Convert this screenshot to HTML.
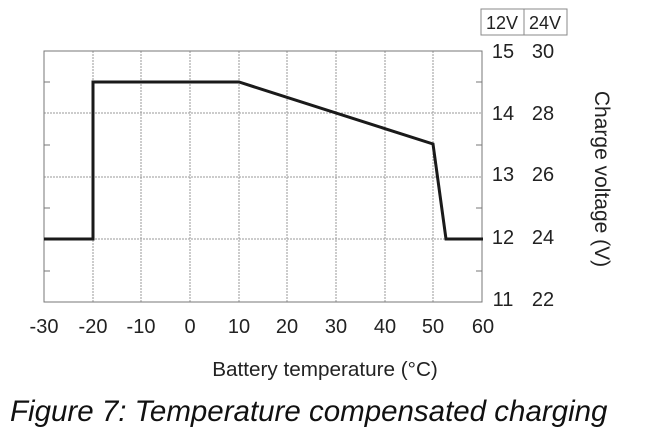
<!DOCTYPE html>
<html><head><style>
body{margin:0;background:#fff;}
svg{display:block;font-family:"Liberation Sans",Arial,sans-serif;}
</style></head><body>
<svg width="661" height="442" viewBox="0 0 661 442">
<rect width="661" height="442" fill="#fff"/>
<g stroke="#999" stroke-width="1" stroke-dasharray="2,1">
<line x1="93" y1="51" x2="93" y2="302"/><line x1="141" y1="51" x2="141" y2="302"/>
<line x1="190" y1="51" x2="190" y2="302"/><line x1="239" y1="51" x2="239" y2="302"/>
<line x1="287" y1="51" x2="287" y2="302"/><line x1="336" y1="51" x2="336" y2="302"/>
<line x1="385" y1="51" x2="385" y2="302"/><line x1="433" y1="51" x2="433" y2="302"/>
<line x1="44" y1="113" x2="482" y2="113"/><line x1="44" y1="177" x2="482" y2="177"/>
<line x1="44" y1="239" x2="482" y2="239"/>
</g>
<rect x="44" y="51" width="438" height="251" fill="none" stroke="#777" stroke-width="1"/>
<g stroke="#777" stroke-width="1">
<line x1="44" y1="82" x2="50" y2="82"/><line x1="44" y1="145" x2="50" y2="145"/>
<line x1="44" y1="208" x2="50" y2="208"/><line x1="44" y1="271" x2="50" y2="271"/>
<line x1="476" y1="82" x2="482" y2="82"/><line x1="476" y1="145" x2="482" y2="145"/>
<line x1="476" y1="208" x2="482" y2="208"/><line x1="476" y1="271" x2="482" y2="271"/>
</g>
<polyline points="44,239 93,239 93,82 239,82 433,144 446,239 483,239" fill="none" stroke="#1a1a1a" stroke-width="3"/>
<rect x="481" y="9" width="86" height="26" fill="none" stroke="#888" stroke-width="1"/>
<line x1="524" y1="9" x2="524" y2="35" stroke="#888"/>
<g fill="#222">
<g font-size="18" text-anchor="middle">
<text x="502" y="29">12V</text>
<text x="545" y="29">24V</text>
</g>
<g text-anchor="middle" font-size="20">
<text x="503" y="58">15</text><text x="543" y="58">30</text>
<text x="503" y="120">14</text><text x="543" y="120">28</text>
<text x="503" y="181">13</text><text x="543" y="181">26</text>
<text x="503" y="244">12</text><text x="543" y="244">24</text>
<text x="503" y="306">11</text><text x="543" y="306">22</text>
<text x="44" y="333">-30</text><text x="93" y="333">-20</text><text x="141" y="333">-10</text>
<text x="190" y="333">0</text><text x="239" y="333">10</text><text x="287" y="333">20</text>
<text x="336" y="333">30</text><text x="385" y="333">40</text><text x="433" y="333">50</text>
<text x="483" y="333">60</text>
</g>
<text transform="translate(595,179) rotate(90)" text-anchor="middle" font-size="21">Charge voltage (V)</text>
<text x="325" y="376" text-anchor="middle" font-size="20.7">Battery temperature (°C)</text>
</g>
<text x="10" y="421" font-size="29.5" font-style="italic" fill="#111">Figure 7: Temperature compensated charging</text>
</svg>
</body></html>
